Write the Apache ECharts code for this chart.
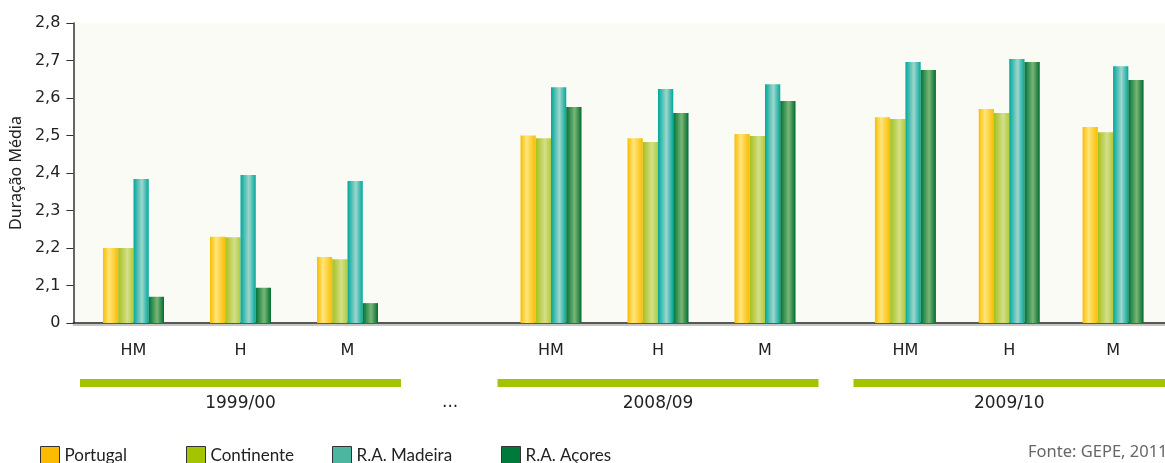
<!DOCTYPE html>
<html>
<head>
<meta charset="utf-8">
<script src="https://cdn.jsdelivr.net/npm/echarts@6/dist/echarts.min.js"></script>
<style>
  html, body { margin: 0; padding: 0; background: #fff; }
  #chart { width: 1165px; height: 463px; }
</style>
</head>
<body>
<div id="chart"></div>
<script>
// categories and groups
var categories = ['HM', 'H', 'M'];
var years = ['1999/00', '2008/09', '2009/10'];
var seriesNames = ['Portugal', 'Continente', 'R.A. Madeira', 'R.A. Açores'];
var yTicks = [2.0, 2.1, 2.2, 2.3, 2.4, 2.5, 2.6, 2.7, 2.8];

// values per year group: [HM, H, M]
var portugal = [
    [2.20, 2.23, 2.176],
    [2.50, 2.493, 2.504],
    [2.549, 2.571, 2.523]
];
var continente = [
    [2.20, 2.229, 2.17],
    [2.493, 2.483, 2.499],
    [2.544, 2.56, 2.509]
];
var madeira = [
    [2.384, 2.395, 2.379],
    [2.629, 2.624, 2.637],
    [2.696, 2.704, 2.685]
];
var acores = [
    [2.07, 2.094, 2.053],
    [2.576, 2.56, 2.592],
    [2.675, 2.696, 2.648]
];

var chart = echarts.init(document.getElementById('chart'));

function grad(edge, mid, pos, edge2) {
    return new echarts.graphic.LinearGradient(0, 0, 1, 0, [
        { offset: 0, color: edge },
        { offset: pos, color: mid },
        { offset: 1, color: edge2 || edge }
    ]);
}

var barColors = [
    grad('#f9bd00', '#ffe57a', 0.4),
    grad('#a6c01c', '#d3df8a', 0.6, '#b2ca3c'),
    grad('#00a89b', '#9fd6cd', 0.55),
    grad('#00733a', '#7ab676', 0.55, '#006c31')
];
var legendColors = ['#fbbb00', '#a4c400', '#4db6a0', '#007a3a'];
var allData = [portugal, continente, madeira, acores];

var axisFont = { fontFamily: 'DejaVu Sans', fontSize: 16, color: '#222' };
var yearFont = { fontFamily: 'DejaVu Sans', fontSize: 17, color: '#222' };

var grids = [{ left: 70, top: 23, width: 1095, height: 300, show: true, backgroundColor: '#fafbf5', borderWidth: 0 }];
var xAxes = [{
    gridIndex: 0, type: 'value', min: 0, max: 1,
    axisLine: { show: true, lineStyle: { color: '#222', width: 1.5, shadowColor: 'rgba(0,0,0,0.3)', shadowOffsetY: 2 } },
    axisTick: { show: false }, axisLabel: { show: false }, splitLine: { show: false }
}];
var yAxes = [{
    gridIndex: 0, type: 'value', min: 2, max: 2.8, interval: 0.1,
    name: 'Duração Média', nameLocation: 'middle', nameGap: 46,
    nameTextStyle: { fontFamily: 'Noto Sans', fontSize: 16, color: '#222' },
    axisLine: { show: true, lineStyle: { color: '#333', width: 1.5 } },
    axisTick: { show: true, length: 7, lineStyle: { color: '#333' } },
    splitLine: { show: false },
    axisLabel: Object.assign({
        margin: 13,
        formatter: function (v) {
            if (Math.abs(v - 2) < 1e-6) return '0';
            return v.toFixed(1).replace('.', ',');
        }
    }, axisFont)
}];
var series = [];
var lefts = [80, 497.5, 853.5];

years.forEach(function (yr, g) {
    var gi = g + 1;
    grids.push({ left: lefts[g], top: 23, width: 321, height: 300 });
    xAxes.push({
        gridIndex: gi, type: 'category', data: categories, position: 'bottom',
        axisLine: { show: false }, axisTick: { show: false },
        axisLabel: Object.assign({ margin: 20 }, axisFont)
    });
    xAxes.push({
        gridIndex: gi, type: 'category', data: categories, position: 'bottom', offset: 60,
        axisLine: { show: true, lineStyle: { color: '#a4c400', width: 8, cap: 'butt' } },
        axisTick: { show: false }, axisLabel: { show: false },
        name: yr, nameLocation: 'middle', nameGap: 12,
        nameTextStyle: yearFont
    });
    yAxes.push({ gridIndex: gi, type: 'value', min: 2, max: 2.8, startValue: 2, show: false });
    seriesNames.forEach(function (name, s) {
        series.push({
            name: name, type: 'bar', xAxisIndex: xAxes.length - 2, yAxisIndex: gi,
            barWidth: 15.25, barGap: '0%',
            itemStyle: { color: barColors[s] },
            data: allData[s][g]
        });
    });
});

var legendLefts = [35, 181, 327, 496];
var legends = seriesNames.map(function (name, i) {
    return {
        left: legendLefts[i], top: 441, icon: 'rect', itemWidth: 19, itemHeight: 19, itemGap: 9,
        selectedMode: false,
        textStyle: { fontFamily: 'Lato', fontSize: 17, color: '#222' },
        data: [{ name: name, itemStyle: { color: legendColors[i], borderColor: '#333', borderWidth: 1 } }]
    };
});

chart.setOption({
    animation: false,
    backgroundColor: '#fff',
    grid: grids,
    xAxis: xAxes,
    yAxis: yAxes,
    legend: legends,
    graphic: [
        { type: 'text', left: 442, top: 394, style: { text: '...', font: '17px "DejaVu Sans"', fill: '#222' } },
        { type: 'text', left: 1028, top: 444, style: { text: 'Fonte: GEPE, 2011', font: '16.5px "Noto Sans"', fill: '#666' } }
    ],
    series: series
});
window.addEventListener('resize', chart.resize);
</script>
</body>
</html>
